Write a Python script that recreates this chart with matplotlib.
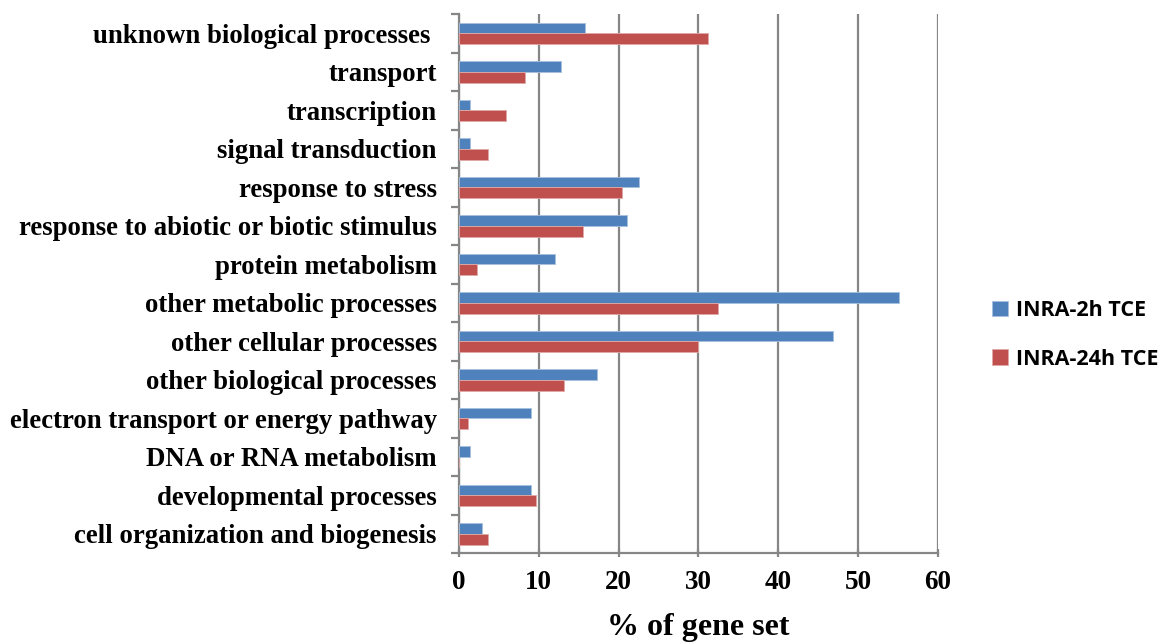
import numpy as np
import matplotlib.pyplot as plt
from matplotlib.ticker import MultipleLocator, NullFormatter

# GO categories, bottom to top as drawn
categories = [
    "cell organization and biogenesis",
    "developmental processes",
    "DNA or RNA metabolism",
    "electron transport or energy pathway",
    "other biological processes",
    "other cellular processes",
    "other metabolic processes",
    "protein metabolism",
    "response to abiotic or biotic stimulus",
    "response to stress",
    "signal transduction",
    "transcription",
    "transport",
    "unknown biological processes ",
]
inra_2h = [2.9, 9.0, 1.4, 9.0, 17.3, 46.9, 55.2, 12.0, 21.1, 22.6, 1.4, 1.4, 12.8, 15.8]
inra_24h = [3.6, 9.6, 0.0, 1.1, 13.1, 30.0, 32.4, 2.3, 15.6, 20.4, 3.6, 5.9, 8.3, 31.2]
series_names = ["INRA-2h TCE", "INRA-24h TCE"]

blue = "#4F81BD"
red = "#C0504D"
grid_col = "#868686"

fig = plt.figure(figsize=(11.69, 6.44), dpi=100)
ax = fig.add_axes([0.3927, 0.141, 0.4094, 0.837])

y = np.arange(len(categories))
h = 0.278
ax.barh(y + h / 2, inra_2h, height=h, color=blue, edgecolor="#A7C0DE",
        linewidth=0.6, label=series_names[0], zorder=3)
ax.barh(y - h / 2, inra_24h, height=h, color=red, edgecolor="#E0A9A7",
        linewidth=0.6, label=series_names[1], zorder=3)

ax.set_xlim(0, 60)
ax.set_ylim(-0.5, len(categories) - 0.5)
ax.xaxis.set_major_locator(MultipleLocator(10))
ax.grid(axis="x", color=grid_col, linewidth=1.6, zorder=0)

# category labels centred, tick marks on the group boundaries
ax.set_yticks(y)
ax.set_yticklabels(categories, fontfamily="Liberation Serif",
                   fontweight="bold", fontsize=19.3)
ax.tick_params(axis="y", which="major", length=0, pad=16)
ax.set_yticks(np.arange(-0.5, len(categories), 1.0), minor=True)
ax.tick_params(axis="y", which="minor", length=6, width=1.6, color=grid_col)
ax.yaxis.set_minor_formatter(NullFormatter())

ax.tick_params(axis="x", which="major", length=6, width=1.6, color=grid_col,
               direction="inout", pad=9, labelsize=19.5)
for lbl in ax.get_xticklabels():
    lbl.set_fontfamily("Liberation Serif")
    lbl.set_fontweight("bold")

for side in ("top", "right"):
    ax.spines[side].set_visible(False)
for side in ("left", "bottom"):
    ax.spines[side].set_color(grid_col)
    ax.spines[side].set_linewidth(1.6)

ax.set_xlabel("% of gene set", fontfamily="Liberation Serif",
              fontweight="bold", fontsize=23, labelpad=13)

leg = fig.legend(loc="center left", bbox_to_anchor=(0.832, 0.48),
                 frameon=False, handlelength=0.75, handleheight=0.75,
                 handletextpad=0.35, labelspacing=1.28,
                 prop={"family": "Open Sans", "weight": "bold", "size": 15.5})

fig.savefig("out.png", dpi=100)
